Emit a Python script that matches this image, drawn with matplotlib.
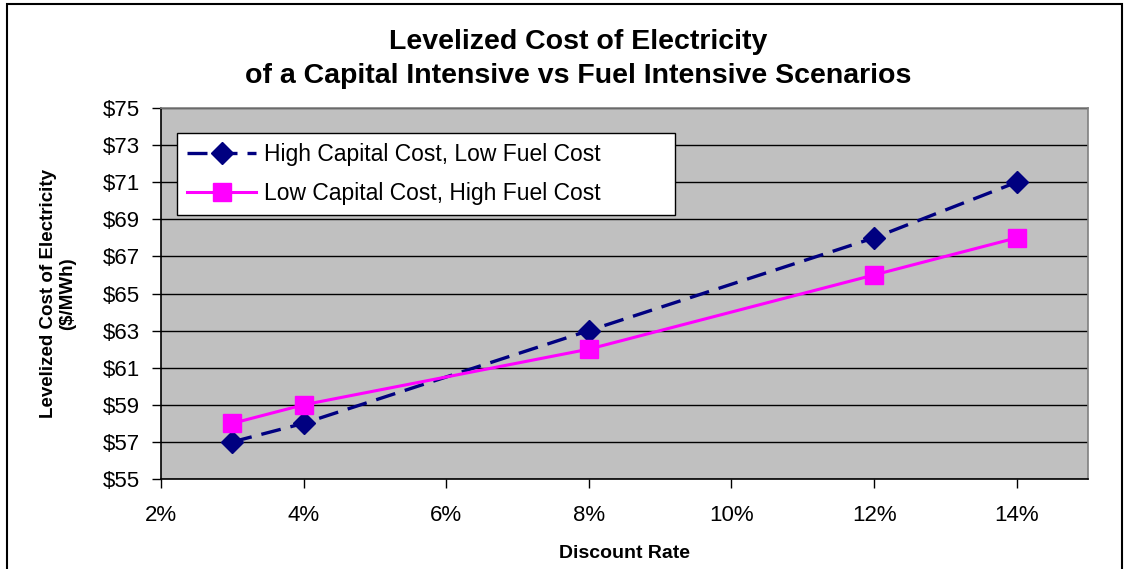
import matplotlib.pyplot as plt
from matplotlib.patches import Rectangle
from matplotlib.ticker import FuncFormatter

plt.rcParams['font.family'] = ['Liberation Sans', 'DejaVu Sans']

rates = [3, 4, 8, 12, 14]
high_capital = [57, 58, 63, 68, 71]
low_capital = [58, 59, 62, 66, 68]

fig = plt.figure(figsize=(11.29, 5.69), dpi=100)
fig.patches.append(Rectangle((7 / 1129, -0.02), 1115 / 1129, 1 - 4 / 569 + 0.02,
                             transform=fig.transFigure, fill=False,
                             edgecolor='black', linewidth=1.5))

ax = fig.add_axes([161 / 1129, 90 / 569, 927 / 1129, 371 / 569])
ax.set_facecolor('#C0C0C0')

ax.plot(rates, high_capital, color='#000080', linewidth=2.4, dashes=(6, 3),
        marker='D', markersize=11, label='High Capital Cost, Low Fuel Cost')
ax.plot(rates, low_capital, color='#FF00FF', linewidth=2.2,
        marker='s', markersize=13, label='Low Capital Cost, High Fuel Cost')

ax.set_xlim(2, 15)
ax.set_ylim(55, 75)
ax.set_xticks([2, 4, 6, 8, 10, 12, 14])
ax.set_yticks(list(range(55, 76, 2)))
ax.xaxis.set_major_formatter(FuncFormatter(lambda v, p: f'{v:.0f}%'))
ax.yaxis.set_major_formatter(FuncFormatter(lambda v, p: f'${v:.0f}'))
ax.grid(axis='y', color='black', linewidth=1.0)
ax.set_axisbelow(True)
ax.tick_params(labelsize=16, length=6.5, width=1, direction='out')
ax.tick_params(axis='y', pad=8.5)
ax.tick_params(axis='x', pad=12)
for s in ['top', 'right']:
    ax.spines[s].set_color('#808080')
    ax.spines[s].set_linewidth(1.2)
for s in ['left', 'bottom']:
    ax.spines[s].set_linewidth(1.2)

ax.set_xlabel('Discount Rate', fontsize=14, fontweight='bold', labelpad=14)
ax.set_ylabel('Levelized Cost of Electricity\n($/MWh)', fontsize=13.5,
              fontweight='bold', labelpad=19)

leg = ax.legend(loc='upper left', bbox_to_anchor=(0.0173, 0.0, 0.537, 0.9326),
                mode='expand', fontsize=16.5,
                frameon=True, fancybox=False, edgecolor='black',
                framealpha=1, borderpad=0.45, handlelength=3.0, handletextpad=0.35,
                labelspacing=0.67, borderaxespad=0)
leg.get_frame().set_linewidth(1.0)

fig.text(578 / 1129, 1 - 59 / 569,
         'Levelized Cost of Electricity\nof a Capital Intensive vs Fuel Intensive Scenarios',
         ha='center', va='center', fontsize=20.5, fontweight='bold', linespacing=1.4)

fig.savefig('out.png', dpi=100)
